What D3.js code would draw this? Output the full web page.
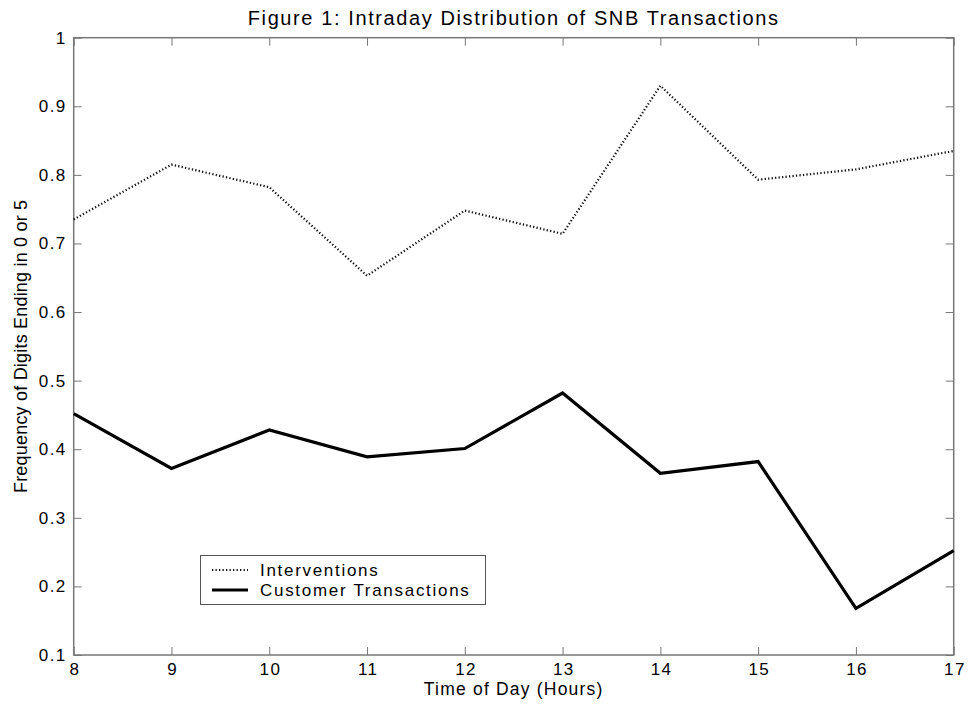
<!DOCTYPE html>
<html><head><meta charset="utf-8">
<script src="https://cdn.jsdelivr.net/npm/d3@7"></script>
<style>body{margin:0;background:#fff}svg{display:block}text{font-family:"Liberation Sans",Arial,sans-serif}</style>
</head><body>
<svg id="c" width="973" height="711"></svg>
<script>
const hours = [8, 9, 10, 11, 12, 13, 14, 15, 16, 17];
const interventions = [0.735, 0.815, 0.782, 0.653, 0.748, 0.714, 0.930, 0.793, 0.808, 0.835];
const customer = [0.452, 0.372, 0.428, 0.389, 0.401, 0.482, 0.365, 0.382, 0.168, 0.252];
const yTicks = [0.1, 0.2, 0.3, 0.4, 0.5, 0.6, 0.7, 0.8, 0.9, 1];
const xTicks = [8, 9, 10, 11, 12, 13, 14, 15, 16, 17];
const seriesNames = ["Interventions", "Customer Transactions"];

const L = 73.7, R = 953.7, T = 37.7, B = 655;
const svg = d3.select("#c");
const x = d3.scaleLinear().domain([8, 17]).range([L, R]);
const y = d3.scaleLinear().domain([0.1, 1]).range([B, T]);
const axisColor = "#777";
const fmt = d => String(+d.toFixed(1));

function styleAxis(g, hideText) {
  g.select(".domain").remove();
  g.selectAll(".tick line").attr("stroke", axisColor).attr("stroke-width", 1);
  g.selectAll(".tick text").attr("fill", "#000").style("font-size", "17px").style("letter-spacing", "1.4px");
  if (hideText) g.selectAll(".tick text").remove();
}
// bottom
svg.append("g").attr("transform", `translate(0,${B})`)
  .call(d3.axisBottom(x).tickValues(xTicks).tickSize(-8).tickPadding(14).tickFormat(d3.format("d")))
  .call(g => styleAxis(g, false))
  .call(g => g.selectAll(".tick text").attr("dy", null).attr("y", 19.5).attr("dx", "0.7px"));
// top
svg.append("g").attr("transform", `translate(0,${T})`)
  .call(d3.axisTop(x).tickValues(xTicks).tickSize(-8))
  .call(g => styleAxis(g, true));
// left
svg.append("g").attr("transform", `translate(${L},0)`)
  .call(d3.axisLeft(y).tickValues(yTicks).tickSize(-8).tickPadding(7).tickFormat(fmt))
  .call(g => styleAxis(g, false));
// right
svg.append("g").attr("transform", `translate(${R},0)`)
  .call(d3.axisRight(y).tickValues(yTicks).tickSize(-8))
  .call(g => styleAxis(g, true));
// box
svg.append("rect").attr("x", L).attr("y", T).attr("width", R - L).attr("height", B - T)
  .attr("fill", "none").attr("stroke", axisColor).attr("stroke-width", 1.5);

const line = d3.line().x((d, i) => x(hours[i])).y(d => y(d));
svg.append("path").datum(interventions).attr("d", line).attr("fill", "none")
  .attr("stroke", "#111").attr("stroke-width", 2.2).attr("stroke-dasharray", "1.3,2.2");
svg.append("path").datum(customer).attr("d", line).attr("fill", "none")
  .attr("stroke", "#000").attr("stroke-width", 3.2).attr("stroke-linejoin", "miter");

// legend
const lg = svg.append("g");
lg.append("rect").attr("x", 200.5).attr("y", 555.5).attr("width", 285).attr("height", 49)
  .attr("fill", "#fff").attr("stroke", "#555").attr("stroke-width", 1);
const legendStyles = [{w: 2.2, dash: "1.3,2.2", c: "#111"}, {w: 3.2, dash: null, c: "#000"}];
seriesNames.forEach((n, i) => {
  const yy = 570 + i * 20;
  lg.append("line").attr("x1", 212).attr("x2", 248).attr("y1", yy).attr("y2", yy)
    .attr("stroke", legendStyles[i].c).attr("stroke-width", legendStyles[i].w)
    .attr("stroke-dasharray", legendStyles[i].dash);
  lg.append("text").attr("x", 260).attr("y", yy + 6).style("font-size", "17px")
    .style("letter-spacing", "1.7px").text(n);
});

svg.append("text").attr("x", (L + R) / 2).attr("y", 25).attr("text-anchor", "middle")
  .style("font-size", "20px").style("letter-spacing", "1.6px")
  .text("Figure 1: Intraday Distribution of SNB Transactions");
svg.append("text").attr("x", (L + R) / 2).attr("y", 695).attr("text-anchor", "middle")
  .style("font-size", "17.5px").style("letter-spacing", "1.2px").text("Time of Day (Hours)");
svg.append("text").attr("transform", `translate(27,${(T + B) / 2}) rotate(-90)`).attr("text-anchor", "middle")
  .style("font-size", "18px").style("letter-spacing", "0.2px").text("Frequency of Digits Ending in 0 or 5");
</script>
</body></html>
